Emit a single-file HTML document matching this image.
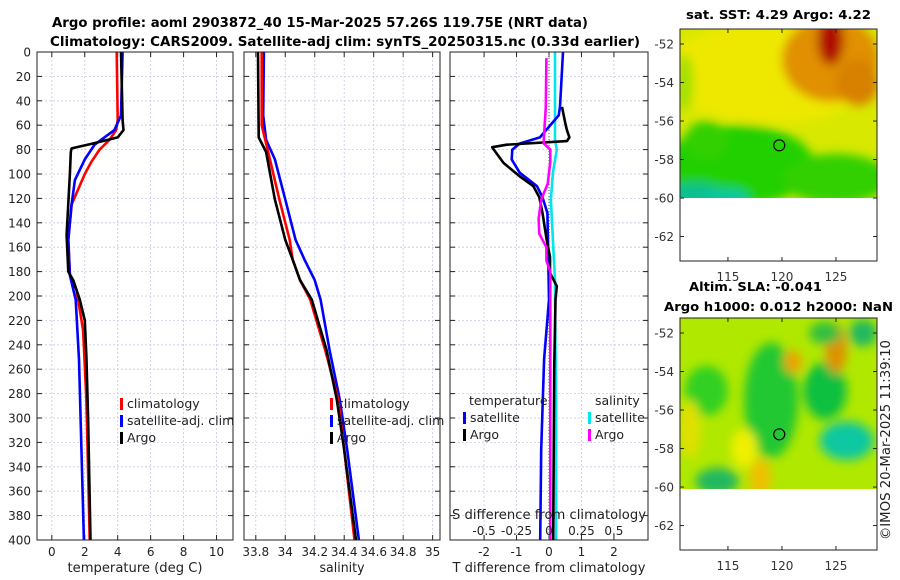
<!DOCTYPE html>
<html><head><meta charset="utf-8"><style>
body{margin:0;background:#fff;}
svg{display:block;font-family:"DejaVu Sans","Liberation Sans",sans-serif;}
</style></head><body>
<svg id="fig" width="900" height="580" viewBox="0 0 900 580" xmlns="http://www.w3.org/2000/svg">
<defs>
<filter id="blur1" x="-20%" y="-20%" width="140%" height="140%"><feGaussianBlur stdDeviation="5"/></filter>
<clipPath id="clipM1"><rect x="680" y="29" width="197" height="169"/></clipPath>
<clipPath id="clipM2"><rect x="680" y="318" width="197" height="171"/></clipPath>
</defs>
<text x="52" y="27" font-weight="bold" font-size="13" textLength="536" lengthAdjust="spacingAndGlyphs">Argo profile: aoml 2903872_40 15-Mar-2025 57.26S 119.75E (NRT data)</text>
<text x="50" y="46" font-weight="bold" font-size="13" textLength="590" lengthAdjust="spacingAndGlyphs">Climatology: CARS2009. Satellite-adj clim: synTS_20250315.nc (0.33d earlier)</text>
<g id="panels"></g>
<g id="maps"></g>
<text transform="translate(890,540) rotate(-90)" font-size="13" fill="#222" textLength="200" lengthAdjust="spacingAndGlyphs">©IMOS 20-Mar-2025 11:39:10</text>
</svg>
<script>
// ---- data ----
const depthTicks=[0,20,40,60,80,100,120,140,160,180,200,220,240,260,280,300,320,340,360,380,400];
const tempTicks=[0,2,4,6,8,10];
const salTicks=[33.8,34,34.2,34.4,34.6,34.8,35];
const salTickLabels=["33.8","34","34.2","34.4","34.6","34.8","35"];
const tdiffTicks=[-2,-1,0,1,2];
const sdiffTicks=[-0.5,-0.25,0,0.25,0.5];
const sdiffTickLabels=["-0.5","-0.25","0","0.25","0.5"];

const climTdep=[0,56,64,72,80,90,100,125,154,183,195,228,285,400];
const climT=[3.94,4.0,3.9,3.5,2.9,2.4,2.0,1.2,1.0,1.1,1.5,1.9,2.1,2.3];
const satTdep=[0,52,64,76,88,105,125,154,183,203,252,400];
const satT=[4.3,4.2,3.8,2.6,2.0,1.4,1.2,1.0,1.1,1.45,1.65,1.95];
const argoTdep=[0,56,64,70,75,79,82,100,150,180,187,203,220,250,300,400];
const argoT=[4.2,4.3,4.35,4.0,2.5,1.2,1.15,1.1,0.9,1.0,1.3,1.7,2.0,2.1,2.2,2.35];

const climSdep=[0,60,80,121,154,170,187,203,244,285,326,400];
const climS=[33.84,33.84,33.88,33.96,34.03,34.05,34.1,34.17,34.27,34.36,34.4,34.47];
const satSdep=[0,52,72,88,121,154,170,187,203,244,285,326,400];
const satS=[33.855,33.85,33.87,33.93,34.0,34.07,34.13,34.2,34.24,34.3,34.37,34.42,34.5];
const argoSdep=[0,70,82,121,154,170,187,203,244,285,326,400];
const argoS=[33.815,33.82,33.87,33.93,34.0,34.05,34.1,34.18,34.28,34.35,34.4,34.48];

const satTdiffDep=[0,45,52,70,75,80,88,99,110,119,132,203,252,326,400];
const satTdiff=[0.43,0.34,0.3,-0.28,-0.9,-1.13,-1.15,-0.9,-0.37,-0.2,-0.05,0,-0.15,-0.24,-0.27];
const argoTdiffDep=[45,58,64,70,73,76,78,80,91,102,110,119,132,154,168,181,192,203,260,400];
const argoTdiff=[0.4,0.5,0.55,0.63,0.55,-1.3,-1.75,-1.7,-1.4,-0.9,-0.48,-0.3,-0.2,-0.07,0.03,0.03,0.24,0.2,0.16,0.13];
const satSdiffDep=[0,72,80,99,121,154,187,200,244,285,400];
const satSdiff=[0.046,0.046,0.06,0.03,0.015,0.03,0.046,0.046,0.05,0.055,0.055];
const argoSdiffDep=[5,45,72,75,80,90,108,121,137,149,160,171,180,200,300,400];
const argoSdiff=[-0.02,-0.025,-0.04,-0.04,0.01,0.01,-0.01,-0.06,-0.08,-0.075,-0.02,-0.02,0.01,0.01,0.01,0.01];

const mapLonTicks=[115,120,125];
const mapLatTicks=[-52,-54,-56,-58,-60,-62];
const argoLon=119.75, argoLat=-57.26;

// ---- helpers ----
const NS="http://www.w3.org/2000/svg";
function mk(tag,attrs,parent){const e=document.createElementNS(NS,tag);for(const k in attrs)e.setAttribute(k,attrs[k]);parent.appendChild(e);return e;}
const Y0=52,Y1=540;
const yScale=d=>Y0+(d/400)*(Y1-Y0);
const panelsG=document.getElementById('panels');

function panel(name,x0,x1,xmin,xmax,ticks,labels,xlabel,xlabelLen,showY){
  const g=mk('g',{},panelsG);
  
  
  const xs=v=>x0+(v-xmin)/(xmax-xmin)*(x1-x0);
  ticks.forEach(t=>{const l=mk('line',{x1:xs(t),x2:xs(t),y1:Y0,y2:Y1,stroke:'#c8c8e8','stroke-width':0.8,'stroke-dasharray':'2,2'},g);});
  depthTicks.forEach(d=>{const l=mk('line',{x1:x0,x2:x1,y1:yScale(d),y2:yScale(d),stroke:'#c8c8e8','stroke-width':0.8,'stroke-dasharray':'2,2'},g);});
  ticks.forEach((t,i)=>{
    mk('line',{x1:xs(t),x2:xs(t),y1:Y1,y2:Y1-5,stroke:'#222'},g);
    mk('line',{x1:xs(t),x2:xs(t),y1:Y0,y2:Y0+5,stroke:'#222'},g);
    const tx=mk('text',{x:xs(t),y:556,'text-anchor':'middle','font-size':12,fill:'#222'},g);
    tx.textContent=labels?labels[i]:String(t);
    
    
  });
  depthTicks.forEach(d=>{
    mk('line',{x1:x0,x2:x0+5,y1:yScale(d),y2:yScale(d),stroke:'#222'},g);
    mk('line',{x1:x1,x2:x1-5,y1:yScale(d),y2:yScale(d),stroke:'#222'},g);
    if(showY){const tx=mk('text',{x:31,y:yScale(d)+4.5,'text-anchor':'end','font-size':12,fill:'#222'},g);tx.textContent=String(d);
      
      }
  });
  const xl=mk('text',{x:(x0+x1)/2,y:572,'text-anchor':'middle','font-size':13,fill:'#222',textLength:xlabelLen,lengthAdjust:'spacingAndGlyphs'},g);
  xl.textContent=xlabel;
  
  
  return {g,xs};
}
function line(p,xs,vals,deps,color,name,w){
  const pts=vals.map((v,i)=>xs(v).toFixed(1)+','+yScale(deps[i]).toFixed(1)).join(' ');
  const e=mk('polyline',{points:pts,fill:'none',stroke:color,'stroke-width':w||2.6,'stroke-linejoin':'round'},p.g);
  
  
}
function frame(p,x0,x1){mk('rect',{x:x0,y:Y0,width:x1-x0,height:Y1-Y0,fill:'none',stroke:'#222','stroke-width':1},p.g);}
function legend(p,x,y,color,label){
  mk('rect',{x:x,y:y-10,width:3,height:12,fill:color},p.g);
  const t=mk('text',{x:x+7,y:y,'font-size':12.5,fill:'#222'},p.g);t.textContent=label;
  
  
}

const p1=panel('temperature-panel',37,233,-0.9,11,tempTicks,null,'temperature (deg C)',135,true);
line(p1,p1.xs,climT,climTdep,'#ff0000','climatology-temp-line');
line(p1,p1.xs,satT,satTdep,'#0000ff','satellite-temp-line');
line(p1,p1.xs,argoT,argoTdep,'#000000','argo-temp-line');
frame(p1,37,233);
legend(p1,120,408,'#ff0000','climatology');
legend(p1,120,425,'#0000ff','satellite-adj. clim');
legend(p1,120,442,'#000','Argo');

const p2=panel('salinity-panel',244,440,33.72,35.05,salTicks,salTickLabels,'salinity',45,false);
line(p2,p2.xs,satS,satSdep,'#0000ff','satellite-sal-line');
line(p2,p2.xs,climS,climSdep,'#ff0000','climatology-sal-line');
line(p2,p2.xs,argoS,argoSdep,'#000000','argo-sal-line');
frame(p2,244,440);
legend(p2,330,408,'#ff0000','climatology');
legend(p2,330,425,'#0000ff','satellite-adj. clim');
legend(p2,330,442,'#000','Argo');

const p3=panel('difference-panel',450,648,-3.05,3.05,tdiffTicks,null,'T difference from climatology',193,false);
const xsS=v=>p3.xs(v*4);
const z=mk('line',{x1:p3.xs(0),x2:p3.xs(0),y1:Y0,y2:Y1,stroke:'#555','stroke-width':1,'stroke-dasharray':'1,2'},p3.g);

line(p3,xsS,satSdiff,satSdiffDep,'#00e5ee','satellite-sal-diff-line');
line(p3,p3.xs,satTdiff,satTdiffDep,'#0000ff','satellite-temp-diff-line');
line(p3,p3.xs,argoTdiff,argoTdiffDep,'#000000','argo-temp-diff-line');
line(p3,xsS,argoSdiff,argoSdiffDep,'#ff00ff','argo-sal-diff-line');
frame(p3,450,648);
{const t=mk('text',{x:469,y:405,'font-size':12.5,fill:'#222'},p3.g);t.textContent='temperature';}
{const t=mk('text',{x:595,y:405,'font-size':12.5,fill:'#222'},p3.g);t.textContent='salinity';}
legend(p3,463,422,'#0000ff','satellite');
legend(p3,463,439,'#000','Argo');
legend(p3,588,422,'#00e5ee','satellite');
legend(p3,588,439,'#ff00ff','Argo');
{const t=mk('text',{x:452,y:519,'font-size':13,fill:'#222',textLength:194,lengthAdjust:'spacingAndGlyphs'},p3.g);t.textContent='S difference from climatology';}
sdiffTicks.forEach((s,i)=>{const t=mk('text',{x:xsS(s),y:535,'text-anchor':'middle','font-size':12,fill:'#222'},p3.g);t.textContent=sdiffTickLabels[i];
  
  });

// ---- maps ----
const mapsG=document.getElementById('maps');
const LON0=110.56,LON1=128.8;
function mapAxes(name,top,bottom,dataBottom,title1,t1x,t1len,title2,t2len,blobs,base,clip){
  const g=mk('g',{},mapsG);
  
  
  const lx=lon=>680+(lon-LON0)/(LON1-LON0)*197;
  const ppd=(bottom-top)/(63.27-51.22);
  const ly=lat=>top+(-51.22-lat)*ppd;
  const cg=mk('g',{'clip-path':'url(#'+clip+')'},g);
  mk('rect',{x:680,y:top,width:197,height:dataBottom-top,fill:base},cg);
  const bg=mk('g',{filter:'url(#blur1)'},cg);
  blobs.forEach(b=>mk('ellipse',{cx:lx(b[0]),cy:ly(b[1]),rx:b[2]*10.8,ry:b[3]*ppd,fill:b[4]},bg));
  mk('rect',{x:680,y:top,width:197,height:bottom-top,fill:'none',stroke:'#222'},g);
  mapLonTicks.forEach(l=>{mk('line',{x1:lx(l),x2:lx(l),y1:bottom,y2:bottom-4,stroke:'#222'},g);mk('line',{x1:lx(l),x2:lx(l),y1:top,y2:top+4,stroke:'#222'},g);
    const t=mk('text',{x:lx(l),y:bottom+20,'text-anchor':'middle','font-size':12,fill:'#333'},g);t.textContent=String(l);
    });
  mapLatTicks.forEach(l=>{mk('line',{x1:680,x2:684,y1:ly(l),y2:ly(l),stroke:'#222'},g);mk('line',{x1:877,x2:873,y1:ly(l),y2:ly(l),stroke:'#222'},g);
    const t=mk('text',{x:674,y:ly(l)+4.5,'text-anchor':'end','font-size':12,fill:'#333'},g);t.textContent=String(l);
    });
  const c=mk('circle',{cx:lx(argoLon),cy:ly(argoLat),r:5.5,fill:'none',stroke:'#000','stroke-width':1.2},g);
  
  const t1=mk('text',{x:t1x,y:top-10-(title2?17:0),'font-weight':'bold','font-size':12.5,textLength:t1len,lengthAdjust:'spacingAndGlyphs'},g);t1.textContent=title1;
  
  if(title2){const t2=mk('text',{x:664,y:top-7,'font-weight':'bold','font-size':12.5,textLength:t2len,lengthAdjust:'spacingAndGlyphs'},g);t2.textContent=title2;
    }
}
mapAxes('sst-map',29,261,198,'sat. SST: 4.29 Argo: 4.22',686,185,null,0,[
 [119,-53.5,10,2.6,'#eee800'],[124.5,-52.8,4.5,2.2,'#e09000'],[124.5,-51.8,1.2,1.3,'#b01000'],
 [127,-54,2,1.2,'#d88000'],[116,-58.3,7,2.1,'#20d000'],[125,-59,5,1.3,'#30d000'],[113,-57,2,1,'#30d000'],
 [112,-60,3,0.8,'#10c090'],[115,-60,2,0.5,'#10c8a0'],[111,-54,0.8,1.5,'#a0e000']
],'#d8e800','clipM1');
mapAxes('sla-map',318,550,489,'Altim. SLA: -0.041',689,133,'Argo h1000: 0.012 h2000: NaN',229,[
 [113,-55,2,1.3,'#30d020'],[119,-55.5,2.5,3,'#20c830'],[124,-55,2,1.5,'#10c040'],[126,-57.6,2.5,1,'#10c8a0'],
 [125,-52.8,1,1.3,'#e09000'],[121,-53.5,0.8,0.6,'#f0a000'],[118,-59.5,1,1,'#f0c000'],[114,-59.7,2,0.7,'#20b860'],
 [124,-52,1.5,0.6,'#30c040'],[127.5,-52,1.3,0.7,'#20b860'],[116.5,-58,1.2,1,'#f0f000'],[111.5,-57,1,1.5,'#e0e000']
],'#b0e800','clipM2');
</script>
</body></html>
